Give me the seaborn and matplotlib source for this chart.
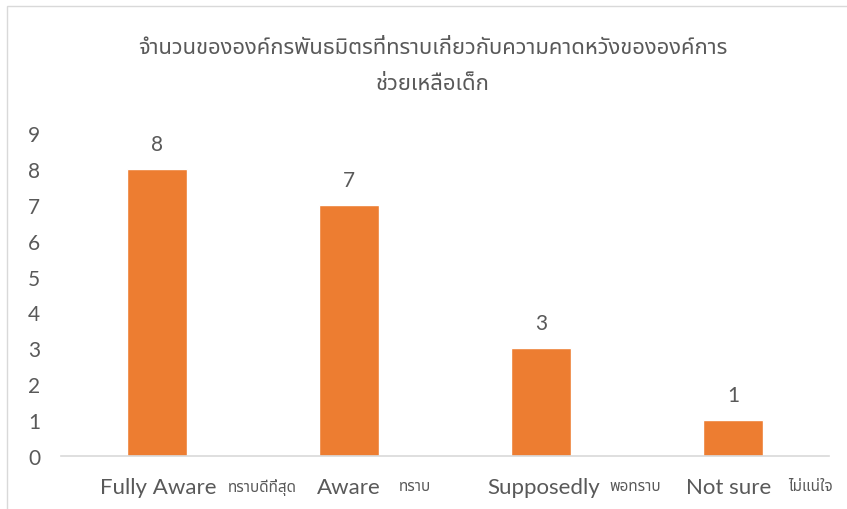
import matplotlib
matplotlib.use("Agg")
import matplotlib.pyplot as plt
from matplotlib import font_manager
from matplotlib.ft2font import FT2Font
from matplotlib.patches import Rectangle
import seaborn as sns
import pandas as pd

# ---- data ----
categories_en = ["Fully Aware", "Aware", "Supposedly", "Not sure"]
categories_th = ["ทราบดีที่สุด", "ทราบ", "พอทราบ", "ไม่แน่ใจ"]
values = [8, 7, 3, 1]
yticks = list(range(0, 10))
title_lines = ["จำนวนขององค์กรพันธมิตรที่ทราบเกี่ยวกับความคาดหวังขององค์การ",
               "ช่วยเหลือเด็ก"]

# ---- find a font with Thai glyphs ----
def find_thai_family():
    found = []
    for f in font_manager.fontManager.ttflist:
        try:
            cm = FT2Font(f.fname).get_charmap()
        except Exception:
            continue
        if ord("ท") in cm and ord("ก") in cm:
            found.append(f.name)
    pref = ["Noto Sans Thai", "Noto Sans Thai UI", "Loma", "Garuda", "Sarabun", "Tlwg Typo", "Kinnari", "Norasi"]
    for p in pref:
        if p in found:
            return p
    return found[0] if found else "DejaVu Sans"

THAI = find_thai_family()
LATIN = "Lato"

sns.set_theme(style="white")
plt.rcParams["font.family"] = [LATIN, THAI, "DejaVu Sans"]

GRAY = "#595959"
ORANGE = "#ED7D31"

df = pd.DataFrame({"cat": categories_en, "val": values})

fig = plt.figure(figsize=(8.47, 5.10), dpi=100)
W, H = 847, 510
ax = fig.add_axes([61 / W, 1 - 457 / H, (829 - 61) / W, (457 - 134) / H])

sns.barplot(data=df, x="cat", y="val", color=ORANGE, saturation=1,
            width=0.31, ax=ax)

ax.set_ylim(0, 9)
ax.set_xlim(-0.5, len(categories_en) - 0.5)
ax.set_yticks(yticks)
ax.set_yticklabels([str(t) for t in yticks], fontsize=15, color=GRAY, family=[LATIN, "DejaVu Sans"])
ax.tick_params(axis="y", length=0, pad=15)
ax.tick_params(axis="x", length=0)
ax.set_xticks(range(len(categories_en)))
ax.set_xticklabels([""] * len(categories_en))
ax.set_xlabel("")
ax.set_ylabel("")
for s in ["top", "right", "left"]:
    ax.spines[s].set_visible(False)
ax.spines["bottom"].set_color("#D9D9D9")
ax.spines["bottom"].set_linewidth(1.2)

# value labels
for c in ax.containers:
    ax.bar_label(c, labels=[str(v) for v in values], padding=11, fontsize=15,
                 color=GRAY, family=[LATIN, "DejaVu Sans"])

# category labels (English + smaller Thai)
en_off = [-57, -32, -54, -47]
th_off = [71, 50, 68, 55]
for i, (en, th) in enumerate(zip(categories_en, categories_th)):
    ax.annotate(en, xy=(i, 0), xycoords=("data", "axes fraction"),
                xytext=(en_off[i], -31), textcoords="offset pixels",
                ha="left", va="center", fontsize=16, color=GRAY,
                family=[LATIN, "DejaVu Sans"])
    ax.annotate(th, xy=(i, 0), xycoords=("data", "axes fraction"),
                xytext=(th_off[i], -31), textcoords="offset pixels",
                ha="left", va="center", fontsize=11, color=GRAY,
                family=[THAI, "DejaVu Sans"])

# title
for k, yy in enumerate([48, 84]):
    fig.text(433 / W, 1 - yy / H, title_lines[k], ha="center", va="center",
             fontsize=15.8, fontweight="bold", color=GRAY,
             family=[THAI, "DejaVu Sans"])

# chart border
fig.patches.append(Rectangle((7 / W, -0.1), 1.2, 1 - 7 / H + 0.1,
                             transform=fig.transFigure, fill=False,
                             edgecolor="#D9D9D9", linewidth=1))

fig.savefig("out.png", dpi=100)
